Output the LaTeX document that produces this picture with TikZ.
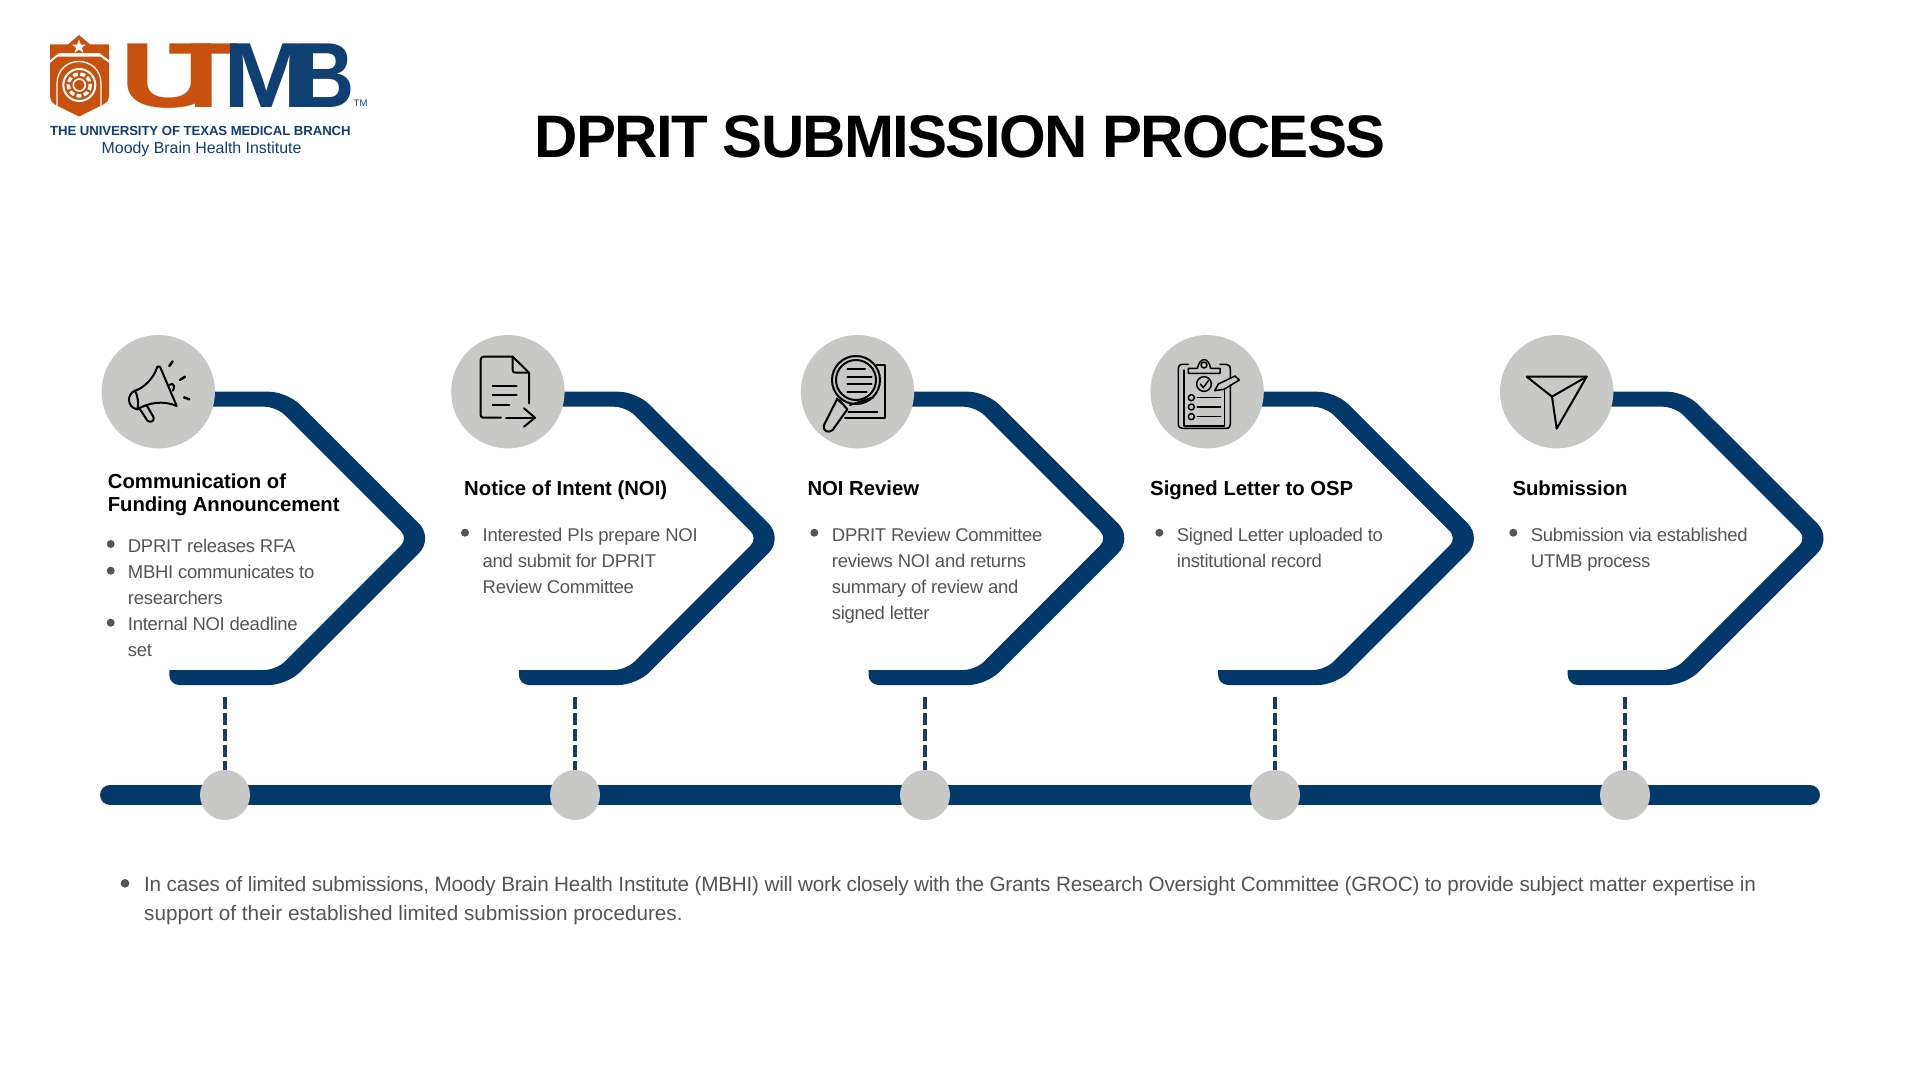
\documentclass[tikz,border=0pt]{standalone}
\usepackage{fontspec}
\setmainfont{Liberation Sans}
\newfontfamily\logofont{Liberation Sans}
\definecolor{navy}{HTML}{03386B}
\definecolor{dashnavy}{HTML}{1D3B5E}
\definecolor{disc}{HTML}{C8C8C6}
\definecolor{bodygray}{HTML}{555555}
\definecolor{utorange}{HTML}{C9510F}
\definecolor{utblue}{HTML}{0F3F73}
\tikzset{
  rail/.style={line width=20pt,draw=navy,line cap=round},
  iconline/.style={draw=black,line width=2pt,line join=round,line cap=round},
  icondisc/.style={circle,fill=disc,minimum size=113.4pt,inner sep=0pt},
  dotdisc/.style={circle,fill=disc,minimum size=50pt,inner sep=0pt},
  dashline/.style={draw=dashnavy,line width=4.4pt,dash pattern=on 12pt off 4pt},
  heading/.style={anchor=base west,inner sep=0pt,font=\fontsize{20.3}{22.5}\selectfont\bfseries,text=black},
  bodytext/.style={anchor=base west,inner sep=0pt,font=\fontsize{18.5}{26}\selectfont\addfontfeature{LetterSpace=-1.5},text=bodygray},
  foottext/.style={anchor=base west,inner sep=0pt,font=\fontsize{20.7}{29}\selectfont,text=bodygray},
  bullet/.style={circle,fill=bodygray,minimum size=8pt,inner sep=0pt},
  logoletter/.style={anchor=base west,inner sep=0pt,font=\logofont\fontsize{92.5}{93}\selectfont\bfseries},
}
\newcommand{\column}[3]{%
  \begin{scope}[xshift=#2pt]
  \fill[navy] (0,391.7) [rounded corners=18pt] -- (128.7,391.7) [rounded corners=21pt] -- (275.5,538.3)
     [rounded corners=18pt] -- (128.8,685) [rounded corners=10pt] -- (11,685) [sharp corners] -- (11,670)
     [rounded corners=12pt] -- (118.1,670) [rounded corners=10pt] -- (249.8,538.3)
     [rounded corners=12pt] -- (118.2,406.7) [sharp corners] -- (0,406.7) -- cycle;
  \end{scope}
  \node[icondisc] (disc#1) at (#2,391.7) {};
  \coordinate (dt#1) at (#3,696.7);
  \node[dotdisc] (dot#1) at (#3,795) {};
  \draw[dashline] (dt#1) -- (dot#1.north);
}
\begin{document}
\begin{tikzpicture}[x=1pt,y=-1pt]
\useasboundingbox (0,0) rectangle (1920,1080);
\fill[white] (0,0) rectangle (1920,1080);
% timeline
\coordinate (railstart) at (110,795);
\coordinate (railend) at (1810,795);
\draw[rail] (railstart) -- (railend);
\column{1}{158.3}{225}
\column{2}{507.9}{575}
\column{3}{857.5}{925}
\column{4}{1207.1}{1275}
\column{5}{1556.7}{1625}
% title
\node[anchor=base west,inner sep=0pt,font=\fontsize{60}{62}\selectfont\bfseries] (title) at (534.5,157.5) {\addfontfeature{LetterSpace=-2.85}DPRIT SUBMISSION PROCESS};
% headings
\node[heading] (h1) at (107.7,488) {Communication of};
\node[heading] (h1b) at (107.7,511.7) {\addfontfeature{LetterSpace=-0.5}Funding Announcement};
\node[heading] (h2) at (464,495) {Notice of Intent (NOI)};
\node[heading] (h3) at (807.3,495) {NOI Review};
\node[heading] (h4) at (1150,495.7) {Signed Letter to OSP};
\node[heading] (h5) at (1512.3,495) {Submission};
% column 1 body
\node[bullet] (b11) at (110.7,544) {};
\node[bodytext] (t11) at (127.7,552) {DPRIT releases RFA};
\node[bullet] (b12) at (110.7,570.7) {};
\node[bodytext] (t12) at (127.7,578) {MBHI communicates to};
\node[bodytext] (t13) at (127.7,604) {researchers};
\node[bullet] (b13) at (110.7,622.7) {};
\node[bodytext] (t14) at (127.7,630) {Internal NOI deadline};
\node[bodytext] (t15) at (127.7,656) {set};
% column 2
\node[bullet] (b21) at (465,532.7) {};
\node[bodytext] (t21) at (482.5,541) {Interested PIs prepare NOI};
\node[bodytext] (t22) at (482.5,567) {and submit for DPRIT};
\node[bodytext] (t23) at (482.5,593) {Review Committee};
% column 3
\node[bullet] (b31) at (814.3,532.7) {};
\node[bodytext] (t31) at (831.7,541) {DPRIT Review Committee};
\node[bodytext] (t32) at (831.7,567) {reviews NOI and returns};
\node[bodytext] (t33) at (831.7,593) {summary of review and};
\node[bodytext] (t34) at (831.7,619) {signed letter};
% column 4
\node[bullet] (b41) at (1159.3,532.7) {};
\node[bodytext] (t41) at (1176.7,541) {Signed Letter uploaded to};
\node[bodytext] (t42) at (1176.7,567) {institutional record};
% column 5
\node[bullet] (b51) at (1513.3,532.7) {};
\node[bodytext] (t51) at (1530.7,541) {Submission via established};
\node[bodytext] (t52) at (1530.7,567) {UTMB process};
% footnote
\node[bullet,minimum size=8.7pt] (fb) at (125,883.3) {};
\node[foottext] (f1) at (144,891.5) {\addfontfeature{LetterSpace=-1.1}In cases of limited submissions, Moody Brain Health Institute (MBHI) will work closely with the Grants Research Oversight Committee (GROC) to provide subject matter expertise in};
\node[foottext] (f2) at (144,920.5) {support of their established limited submission procedures.};
% icon 1 megaphone (zoom units)
\begin{scope}[shift={(80,320)},scale=1/3]
\draw[iconline] (232,140) .. controls (222,175) and (190,205) .. (165,212) .. controls (140,222) and (140,262) .. (172,268) .. controls (205,248) and (250,240) .. (290,258) -- (240,140) -- cycle;
\draw[iconline] (165,212) .. controls (172,225) and (178,250) .. (172,268);
\draw[iconline] (180,268) -- (203,303) .. controls (215,310) and (225,300) .. (220,290) -- (200,256);
\draw[iconline] (268,195) .. controls (285,185) and (285,205) .. (278,212);
\draw[iconline,line width=2.4pt] (278,124) -- (268,138);
\draw[iconline,line width=2.4pt] (315,170) -- (300,180);
\draw[iconline,line width=2.4pt] (312,232) -- (328,238);
\end{scope}
% icon 2 document
\begin{scope}[shift={(440,320)},scale=1/3]
\draw[iconline] (183,293) -- (130,293) .. controls (124,293) and (122,290) .. (122,285) -- (122,120) .. controls (122,113) and (125,110) .. (132,110) -- (218,110) -- (267,158) -- (267,250);
\draw[iconline] (218,110) -- (218,150) .. controls (218,156) and (221,158) .. (227,158) -- (267,158);
\draw[iconline] (158,198) -- (230,198);
\draw[iconline] (158,226) -- (230,226);
\draw[iconline] (158,254) -- (208,254);
\draw[iconline] (198,293) -- (285,293);
\draw[iconline] (252,265) -- (285,293) -- (252,320);
\end{scope}
% icon 3 magnifier
\begin{scope}[shift={(440,320)},scale=1/3]
\draw[iconline] (1310,135) -- (1335,135) -- (1335,293) -- (1215,293);
\draw[iconline] (1248,180) circle[radius=72];
\draw[iconline] (1248,180) circle[radius=60];
\draw[iconline] (1222,148) -- (1275,148);
\draw[iconline] (1222,170) -- (1295,170);
\draw[iconline] (1222,192) -- (1295,192);
\draw[iconline] (1222,216) -- (1280,216);
\draw[iconline] (1300,232) -- (1230,255);
\draw[iconline] (1225,275) -- (1312,275);
\draw[iconline] (1190,235) -- (1205,250);
\draw[iconline] (1190,240) -- (1152,315) .. controls (1148,335) and (1165,340) .. (1178,330) -- (1222,268) -- (1198,240);
\end{scope}
% icon 4 clipboard
\begin{scope}[shift={(1140,320)},scale=1/3]
\draw[iconline,line width=1.5pt] (145,133) -- (128,133) .. controls (118,133) and (115,138) .. (115,148) -- (115,312) .. controls (115,322) and (120,325) .. (128,325) -- (258,325) .. controls (268,325) and (271,320) .. (271,312) -- (271,195);
\draw[iconline,line width=1.5pt] (271,175) -- (271,148) .. controls (271,138) and (266,133) .. (258,133) -- (240,133);
\draw[iconline,line width=1.2pt] (132,150) -- (132,318) -- (254,318) -- (254,205);
\draw[iconline,line width=1.5pt] (145,160) -- (240,160) -- (240,145) -- (212,145) .. controls (205,110) and (180,110) .. (172,145) -- (145,145) -- cycle;
\draw[iconline,line width=1.5pt] (192,135) circle[radius=9];
\draw[iconline,line width=1.5pt] (192,192) circle[radius=22];
\draw[iconline,line width=1.5pt] (181,192) -- (190,203) -- (205,182);
\draw[iconline,line width=1.5pt] (224,212) -- (235,192) -- (285,168) -- (298,180) -- (252,208) -- cycle;
\draw[iconline,line width=1.5pt] (154,233) circle[radius=9];
\draw[iconline,line width=1.5pt] (154,261) circle[radius=9];
\draw[iconline,line width=1.5pt] (154,290) circle[radius=9];
\draw[iconline,line width=1.5pt] (172,233) -- (242,233);
\draw[iconline,line width=1.5pt] (172,261) -- (242,261);
\draw[iconline,line width=1.5pt] (172,290) -- (242,290);
\end{scope}
% icon 5 paper plane
\begin{scope}[shift={(1140,320)},scale=1/3]
\draw[iconline] (1160,170) -- (1340,170) -- (1250,326) -- (1236,230) -- cycle;
\draw[iconline] (1236,230) -- (1340,170);
\end{scope}
% logo shield
\fill[utorange] (50,44.3) -- (70,44.3) -- (50,60) -- cycle;
\fill[utorange] (109,44.3) -- (88,44.3) -- (109,60) -- cycle;
\fill[utorange] (79,35) -- (100,53) -- (58,53) -- cycle;
\fill[utorange] (50,63) -- (58,56.5) -- (100,56.5) -- (109,63) -- (109,97) .. controls (109,100) and (107,102) .. (104,104) -- (79,116.5) -- (54,104) .. controls (52,102) and (50,100) .. (50,97) -- cycle;
\fill[white] (79,39.5) -- (80.8,44.5) -- (86,44.5) -- (81.8,47.7) -- (83.4,52.7) -- (79,49.6) -- (74.6,52.7) -- (76.2,47.7) -- (72,44.5) -- (77.2,44.5) -- cycle;
\draw[white,line width=1.3pt] (57,108) -- (57,84) .. controls (57,54) and (101,54) .. (101,84) -- (101,108);
\draw[white,line width=2pt] (79.3,85) circle[radius=16];
\draw[white,line width=3.4pt,dash pattern=on 5pt off 2.5pt] (79.3,85) circle[radius=11];
\draw[white,line width=1.6pt] (79.3,85) circle[radius=6];
% logo letters
\node[logoletter,text=utorange] (logoU) at (119.5,107) {\scalebox{1.5}[1]{U}};
\node[logoletter,text=utorange] (logoT) at (168,107) {\scalebox{1.25}[1]{T}};
\node[logoletter,text=utblue] (logoM) at (223,107) {\scalebox{1.12}[1]{M}};
\node[logoletter,text=utblue] (logoB) at (296.5,107) {\scalebox{0.87}[1]{B}};
\node[anchor=base west,inner sep=0pt,text=utblue,font=\fontsize{9.5}{10}\selectfont] (logoTM) at (353.5,106.5) {TM};
\node[anchor=base west,inner sep=0pt,text=utblue,font=\fontsize{13.2}{14}\selectfont\bfseries] (logoL1) at (50,135) {\addfontfeature{LetterSpace=-0.75}THE UNIVERSITY OF TEXAS MEDICAL BRANCH};
\node[anchor=base west,inner sep=0pt,text=utblue,font=\fontsize{15.9}{16}\selectfont] (logoL2) at (101.5,153.3) {Moody Brain Health Institute};
\end{tikzpicture}
\end{document}
